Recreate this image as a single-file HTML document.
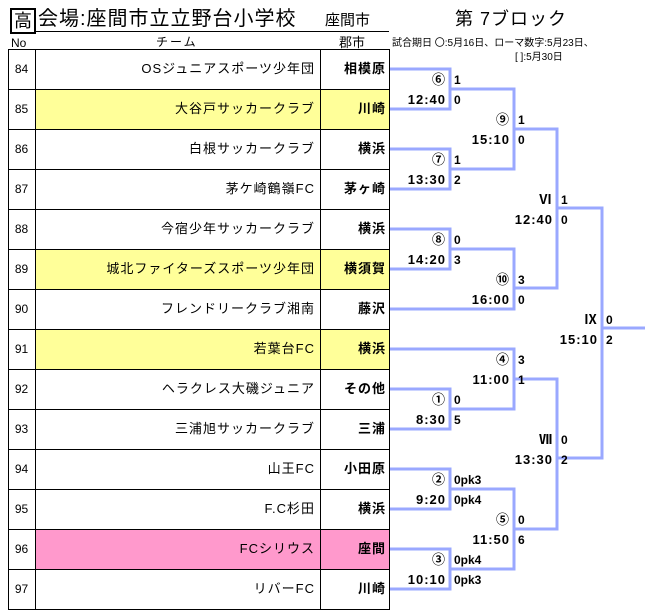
<!DOCTYPE html>
<html><head><meta charset="utf-8"><style>
body{margin:0;width:652px;height:613px;background:#fff;position:relative;overflow:hidden;font-family:"Liberation Sans","Noto Sans CJK JP",sans-serif;color:#000}
.a{position:absolute;white-space:nowrap;line-height:1}
.t{position:absolute;left:35px;width:280px;text-align:right;font-size:13px;line-height:40px;letter-spacing:1px}
.c{position:absolute;left:320px;width:66px;text-align:right;font-size:13px;font-weight:bold;line-height:40px;letter-spacing:1px}
.n{position:absolute;left:8px;width:27px;text-align:center;font-size:12px;line-height:40px}
.l{position:absolute;font-size:13px;font-weight:bold;text-align:right;width:80px;line-height:1;letter-spacing:1px}
.s{position:absolute;font-size:12px;font-weight:bold;line-height:1}
</style></head><body>
<div class="a" style="left:10px;top:8px;width:22px;height:22px;border:2px solid #000;font-size:18px;text-align:center;line-height:22px">高</div>
<div class="a" style="left:38px;top:9px;font-size:20px;letter-spacing:1px">会場:座間市立立野台小学校</div>
<div class="a" style="left:325px;top:13px;font-size:15px">座間市</div>
<div class="a" style="left:455px;top:10px;font-size:18px;letter-spacing:1px">第 7ブロック</div>
<div style="position:absolute;left:35px;top:31px;width:354px;height:1px;background:#000"></div>
<div class="a" style="left:11px;top:37px;font-size:12px">No</div>
<div class="a" style="left:156px;top:36px;font-size:12px;letter-spacing:2px">チーム</div>
<div class="a" style="left:339px;top:36px;font-size:13px">郡市</div>
<div class="a" style="left:392px;top:39px;font-size:10px">試合期日 〇:5月16日、ローマ数字:5月23日、</div>
<div class="a" style="left:515px;top:53px;font-size:10px">[ ]:5月30日</div>

<div style="position:absolute;left:35px;top:89px;width:354px;height:40px;background:#ffff99"></div>
<div style="position:absolute;left:35px;top:249px;width:354px;height:40px;background:#ffff99"></div>
<div style="position:absolute;left:35px;top:329px;width:354px;height:40px;background:#ffff99"></div>
<div style="position:absolute;left:35px;top:529px;width:354px;height:40px;background:#ff99cc"></div>

<svg style="position:absolute;left:0;top:0" width="652" height="613">
<g stroke="#000" stroke-width="1" shape-rendering="crispEdges">
<line x1="8.5" y1="49" x2="8.5" y2="610"/><line x1="35.5" y1="49" x2="35.5" y2="610"/>
<line x1="320.5" y1="49" x2="320.5" y2="610"/><line x1="389.5" y1="49" x2="389.5" y2="610"/>
<line x1="8" y1="49.5" x2="390" y2="49.5"/><line x1="8" y1="89.5" x2="390" y2="89.5"/>
<line x1="8" y1="129.5" x2="390" y2="129.5"/><line x1="8" y1="169.5" x2="390" y2="169.5"/>
<line x1="8" y1="209.5" x2="390" y2="209.5"/><line x1="8" y1="249.5" x2="390" y2="249.5"/>
<line x1="8" y1="289.5" x2="390" y2="289.5"/><line x1="8" y1="329.5" x2="390" y2="329.5"/>
<line x1="8" y1="369.5" x2="390" y2="369.5"/><line x1="8" y1="409.5" x2="390" y2="409.5"/>
<line x1="8" y1="449.5" x2="390" y2="449.5"/><line x1="8" y1="489.5" x2="390" y2="489.5"/>
<line x1="8" y1="529.5" x2="390" y2="529.5"/><line x1="8" y1="569.5" x2="390" y2="569.5"/>
<line x1="8" y1="609.5" x2="390" y2="609.5"/>
</g>
<g stroke="#9aa8ff" stroke-width="3" fill="none">
<polyline points="390,69 450,69 450,109 390,109"/>
<polyline points="390,149 450,149 450,189 390,189"/>
<polyline points="390,229 450,229 450,269 390,269"/>
<polyline points="390,389 450,389 450,429 390,429"/>
<polyline points="390,469 450,469 450,509 390,509"/>
<polyline points="390,549 450,549 450,589 390,589"/>
<polyline points="450,89 514,89 514,169 450,169"/>
<polyline points="450,249 514,249 514,309 390,309"/>
<polyline points="390,349 514,349 514,409 450,409"/>
<polyline points="450,489 514,489 514,569 450,569"/>
<polyline points="514,129 557,129 557,288 514,288"/>
<polyline points="514,379 557,379 557,529 514,529"/>
<polyline points="557,208 602,208 602,458 557,458"/>
<polyline points="602,328 645,328"/>
</g></svg>

<div class="n" style="top:49px">84</div><div class="t" style="top:49px">OSジュニアスポーツ少年団</div><div class="c" style="top:49px">相模原</div>
<div class="n" style="top:89px">85</div><div class="t" style="top:89px">大谷戸サッカークラブ</div><div class="c" style="top:89px">川崎</div>
<div class="n" style="top:129px">86</div><div class="t" style="top:129px">白根サッカークラブ</div><div class="c" style="top:129px">横浜</div>
<div class="n" style="top:169px">87</div><div class="t" style="top:169px">茅ケ崎鶴嶺FC</div><div class="c" style="top:169px">茅ヶ崎</div>
<div class="n" style="top:209px">88</div><div class="t" style="top:209px">今宿少年サッカークラブ</div><div class="c" style="top:209px">横浜</div>
<div class="n" style="top:249px">89</div><div class="t" style="top:249px">城北ファイターズスポーツ少年団</div><div class="c" style="top:249px">横須賀</div>
<div class="n" style="top:289px">90</div><div class="t" style="top:289px">フレンドリークラブ湘南</div><div class="c" style="top:289px">藤沢</div>
<div class="n" style="top:329px">91</div><div class="t" style="top:329px">若葉台FC</div><div class="c" style="top:329px">横浜</div>
<div class="n" style="top:369px">92</div><div class="t" style="top:369px">ヘラクレス大磯ジュニア</div><div class="c" style="top:369px">その他</div>
<div class="n" style="top:409px">93</div><div class="t" style="top:409px">三浦旭サッカークラブ</div><div class="c" style="top:409px">三浦</div>
<div class="n" style="top:449px">94</div><div class="t" style="top:449px">山王FC</div><div class="c" style="top:449px">小田原</div>
<div class="n" style="top:489px">95</div><div class="t" style="top:489px">F.C杉田</div><div class="c" style="top:489px">横浜</div>
<div class="n" style="top:529px">96</div><div class="t" style="top:529px">FCシリウス</div><div class="c" style="top:529px">座間</div>
<div class="n" style="top:569px">97</div><div class="t" style="top:569px">リバーFC</div><div class="c" style="top:569px">川崎</div>

<div class="l" style="left:366px;top:73px">⑥</div><div class="l" style="left:366px;top:93px">12:40</div>
<div class="s" style="left:454px;top:74px">1</div><div class="s" style="left:454px;top:94px">0</div>
<div class="l" style="left:366px;top:153px">⑦</div><div class="l" style="left:366px;top:173px">13:30</div>
<div class="s" style="left:454px;top:154px">1</div><div class="s" style="left:454px;top:174px">2</div>
<div class="l" style="left:366px;top:233px">⑧</div><div class="l" style="left:366px;top:253px">14:20</div>
<div class="s" style="left:454px;top:234px">0</div><div class="s" style="left:454px;top:254px">3</div>
<div class="l" style="left:366px;top:393px">①</div><div class="l" style="left:366px;top:413px">8:30</div>
<div class="s" style="left:454px;top:394px">0</div><div class="s" style="left:454px;top:414px">5</div>
<div class="l" style="left:366px;top:473px">②</div><div class="l" style="left:366px;top:493px">9:20</div>
<div class="s" style="left:454px;top:474px">0pk3</div><div class="s" style="left:454px;top:494px">0pk4</div>
<div class="l" style="left:366px;top:553px">③</div><div class="l" style="left:366px;top:573px">10:10</div>
<div class="s" style="left:454px;top:554px">0pk4</div><div class="s" style="left:454px;top:574px">0pk3</div>

<div class="l" style="left:430px;top:113px">⑨</div><div class="l" style="left:430px;top:133px">15:10</div>
<div class="s" style="left:518px;top:114px">1</div><div class="s" style="left:518px;top:134px">0</div>
<div class="l" style="left:430px;top:273px">⑩</div><div class="l" style="left:430px;top:293px">16:00</div>
<div class="s" style="left:518px;top:274px">3</div><div class="s" style="left:518px;top:294px">0</div>
<div class="l" style="left:430px;top:353px">④</div><div class="l" style="left:430px;top:373px">11:00</div>
<div class="s" style="left:518px;top:354px">3</div><div class="s" style="left:518px;top:374px">1</div>
<div class="l" style="left:430px;top:513px">⑤</div><div class="l" style="left:430px;top:533px">11:50</div>
<div class="s" style="left:518px;top:514px">0</div><div class="s" style="left:518px;top:534px">6</div>

<div class="l" style="left:473px;top:193px">Ⅵ</div><div class="l" style="left:473px;top:213px">12:40</div>
<div class="s" style="left:561px;top:194px">1</div><div class="s" style="left:561px;top:214px">0</div>
<div class="l" style="left:473px;top:433px">Ⅶ</div><div class="l" style="left:473px;top:453px">13:30</div>
<div class="s" style="left:561px;top:434px">0</div><div class="s" style="left:561px;top:454px">2</div>

<div class="l" style="left:518px;top:313px">Ⅸ</div><div class="l" style="left:518px;top:333px">15:10</div>
<div class="s" style="left:606px;top:314px">0</div><div class="s" style="left:606px;top:334px">2</div>
</body></html>
